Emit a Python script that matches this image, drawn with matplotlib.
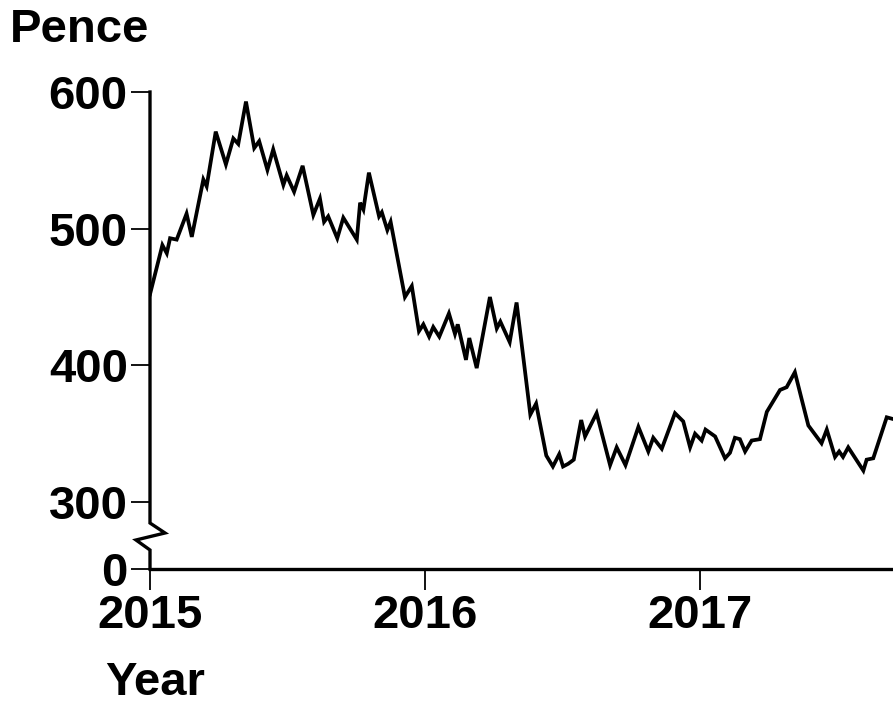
import numpy as np
import matplotlib
matplotlib.use('Agg')
import matplotlib.pyplot as plt
from matplotlib.lines import Line2D

# Price in pence (turning points)
years = [2015.000, 2015.045, 2015.061, 2015.073, 2015.097, 2015.133, 2015.152,
         2015.194, 2015.206, 2015.239, 2015.276, 2015.303, 2015.321, 2015.349,
         2015.379, 2015.397, 2015.427, 2015.448, 2015.485, 2015.497, 2015.524,
         2015.555, 2015.594, 2015.618, 2015.633, 2015.648, 2015.681, 2015.703,
         2015.752, 2015.764, 2015.776, 2015.796, 2015.833, 2015.843, 2015.863,
         2015.875, 2015.927, 2015.952, 2015.978, 2015.994, 2016.015, 2016.030,
         2016.052, 2016.087, 2016.109, 2016.119, 2016.149, 2016.161, 2016.188,
         2016.236, 2016.261, 2016.274, 2016.308, 2016.333, 2016.383, 2016.404,
         2016.441, 2016.465, 2016.488, 2016.502, 2016.521, 2016.541, 2016.568,
         2016.582, 2016.624, 2016.673, 2016.697, 2016.729, 2016.776, 2016.812,
         2016.830, 2016.861, 2016.909, 2016.939, 2016.964, 2016.982, 2017.006,
         2017.020, 2017.055, 2017.091, 2017.109, 2017.127, 2017.145, 2017.164,
         2017.188, 2017.218, 2017.243, 2017.291, 2017.315, 2017.345, 2017.370,
         2017.394, 2017.442, 2017.461, 2017.491, 2017.506, 2017.520, 2017.539,
         2017.594, 2017.606, 2017.630, 2017.679, 2017.697]
pence = [452, 488, 482, 493, 492, 511, 494,
         536, 531, 571, 547, 566, 562, 593,
         559, 564, 543, 558, 532, 539, 527,
         546, 510, 522, 505, 509, 493, 508,
         492, 519, 514, 541, 509, 512, 499,
         505, 450, 458, 425, 430, 421, 428,
         421, 438, 423, 430, 404, 420, 398,
         450, 427, 432, 417, 446, 364, 372,
         334, 326, 335, 326, 328, 331, 360,
         348, 365, 327, 340, 327, 355, 337,
         347, 339, 365, 359, 340, 350, 345,
         353, 348, 332, 336, 347, 346, 337,
         345, 346, 366, 382, 384, 395, 375,
         356, 343, 353, 333, 337, 333, 340,
         323, 331, 332, 362, 361]

year_ticks = [2015, 2016, 2017]
pence_ticks = [0, 300, 400, 500, 600]

plt.rcParams['font.family'] = ['Liberation Sans', 'DejaVu Sans']
plt.rcParams['font.weight'] = 'bold'


# broken axis: 0-300 squeezed into a short stretch
def fwd(v):
    v = np.asarray(v, dtype=float)
    return np.where(v >= 300, v, 251 + v * 49 / 300)


def inv(s):
    s = np.asarray(s, dtype=float)
    return np.where(s >= 300, s, (s - 251) * 300 / 49)


fig = plt.figure(figsize=(8.93, 7.04), dpi=100)
ax = fig.add_axes([150 / 893, (704 - 569) / 704, 743 / 893, 477 / 704])

ax.plot(years, pence, color='black', lw=2.7, solid_joinstyle='miter')

ax.set_yscale('function', functions=(fwd, inv))
ax.set_ylim(0, 600)
ax.set_xlim(2015, 2015 + 743 / 275)
ax.set_yticks(pence_ticks)
ax.set_yticklabels([str(t) for t in pence_ticks])
ax.set_xticks(year_ticks)
ax.set_xticklabels([str(t) for t in year_ticks])
ax.minorticks_off()

for s in ['top', 'right', 'left']:
    ax.spines[s].set_visible(False)
ax.spines['bottom'].set_linewidth(2.4)

ax.tick_params(axis='y', length=14, width=1.3, pad=2, labelsize=34)
ax.tick_params(axis='x', length=15, width=1.3, pad=3, labelsize=34)

# left spine with break zigzag
zx = [0, 0, 15 / 743, -14 / 743, 0, 0]
zy = [1, 0.0964, 0.0755, 0.0608, 0.0398, 0]
ax.add_line(Line2D(zx, zy, transform=ax.transAxes, color='black', lw=2.4,
                   clip_on=False, solid_joinstyle='miter'))

fig.text(10 / 893, 1 - 30 / 704, 'Pence', fontsize=34, fontweight='bold',
         ha='left', va='center')
fig.text(105 / 893, 1 - 683 / 704, 'Year', fontsize=34, fontweight='bold',
         ha='left', va='center')

fig.savefig('out.png', dpi=100)
